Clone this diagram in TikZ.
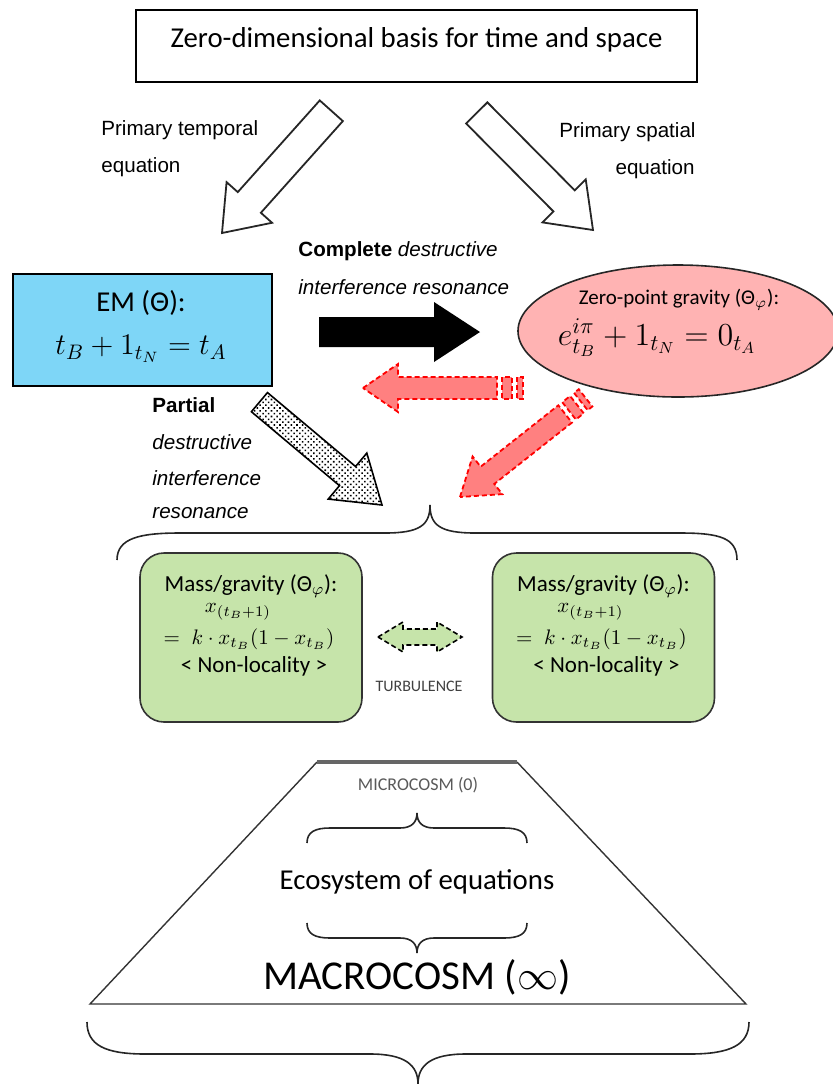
\RequirePackage{fix-cm}
\documentclass[tikz,border=0pt]{standalone}
\usepackage{fontspec}
\setmainfont{Carlito}
\newfontfamily\arialf{Liberation Sans}
\usetikzlibrary{calc,patterns,patterns.meta,shapes.geometric}

\definecolor{emblue}{RGB}{126,214,247}
\definecolor{zpink}{RGB}{255,179,179}
\definecolor{redfill}{RGB}{255,128,128}
\definecolor{mgreen}{RGB}{198,228,170}

% block arrow: style, tip, angle (tip -> tail), length, half shaft, half head, head length
\newcommand{\blockarrow}[7]{%
  \begin{scope}[shift={(#2)}, rotate=#3]
    \path[#1] (0,0) -- (#7,-#6) -- (#7,-#5) -- (#4,-#5) -- (#4,#5) -- (#7,#5) -- (#7,#6) -- cycle;
  \end{scope}}
% striped arrow: style, tip, angle
\newcommand{\stripedarrow}[3]{%
  \begin{scope}[shift={(#2)}, rotate=#3]
    \path[#1] (0,0) -- (35,-24) -- (35,-11) -- (134,-11) -- (134,11) -- (35,11) -- (35,24) -- cycle;
    \path[#1] (139,-11) rectangle (149,11);
    \path[#1] (154,-11) rectangle (160,11);
  \end{scope}}

\tikzset{
  box/.style={draw=black, line width=0.8pt, inner sep=0pt},
  lab/.style={font=\arialf\fontsize{10.3}{12}\selectfont, inner sep=0pt},
  hollow/.style={draw=black!85, line width=0.9pt, fill=white, line join=miter},
  solidarrow/.style={fill=black},
  dotarrow/.style={draw=black, line width=0.8pt, preaction={fill=white}, pattern={Dots[distance=2pt,radius=0.55pt,angle=45]}},
  redarrow/.style={draw=red, line width=0.9pt, fill=redfill, dash pattern=on 2.5pt off 1.5pt},
  turbarrow/.style={draw=black, line width=0.8pt, fill=mgreen, dash pattern=on 2.5pt off 1.5pt},
  gbox/.style={draw=black!80, line width=0.8pt, fill=mgreen, rounded corners=12pt, minimum width=111pt, minimum height=84.5pt, inner sep=0pt},
  gtxt/.style={font=\fontsize{11.5}{13}\selectfont, inner sep=0pt},
  gmath/.style={font=\fontsize{10.5}{12}\selectfont, inner sep=0pt},
  bigtxt/.style={font=\fontsize{14.4}{16}\selectfont, inner sep=0pt},
  bracepath/.style={draw=black!85, line width=0.8pt},
}

\begin{document}
\begin{tikzpicture}[x=0.5pt,y=-0.5pt]
\useasboundingbox (0,0) rectangle (833,1084);

% top box
\node[box, minimum width=280.5pt, minimum height=36pt] (top) at (416.5,46) {};
\node[bigtxt] (toptxt) at (416.5,40) {Zero-dimensional basis for time and space};

% hollow arrows
\blockarrow{hollow}{222,233}{48.2}{164}{15.5}{30.5}{41}
\blockarrow{hollow}{593,230}{134.8}{165}{15}{30.5}{41}
\node[lab, anchor=west] (pt1) at (101,130) {Primary temporal};
\node[lab, anchor=west] (pt2) at (101,167) {equation};
\node[lab, anchor=east] (ps1) at (696,132) {Primary spatial};
\node[lab, anchor=east] (ps2) at (695,169) {equation};

% EM box
\node[box, fill=emblue, minimum width=129.5pt, minimum height=56pt] (em) at (142.5,330) {};
\node[bigtxt] (emt) at (141,303) {EM (Θ):};
\node[inner sep=0pt, font=\fontsize{15}{17}\selectfont] (emeq) at (141,349) {$t_B + 1_{t_N} = t_A$};

% ellipse
\node[ellipse, draw=black!85, line width=0.8pt, fill=zpink, minimum width=160pt, minimum height=66pt, inner sep=0pt] (zp) at (678,331) {};
\node[inner sep=0pt, font=\fontsize{10.5}{12}\selectfont] (zpt) at (679,300) {Zero-point gravity (Θ$_{\varphi}$):};
\node[inner sep=0pt, font=\fontsize{16}{18}\selectfont] (zpeq) at (657,338) {$e^{i\pi}_{t_B} + 1_{t_N} = 0_{t_A}$};

% complete arrow
\node[lab, anchor=west] (c1) at (298,251) {\bfseries Complete \mdseries\itshape destructive};
\node[lab, anchor=west] (c2) at (298,287) {\itshape interference resonance};
\blockarrow{solidarrow}{480,332}{180}{161}{15}{30}{46}

% red striped arrows
\stripedarrow{redarrow}{363,388}{0}
\stripedarrow{redarrow}{460,497}{38.3}

% dotted arrow
\blockarrow{dotarrow}{382,505}{140}{160}{12.5}{30}{45}
\node[lab, anchor=west] (p1) at (152,405) {\bfseries Partial};
\node[lab, anchor=west] (p2) at (152,442) {\itshape destructive};
\node[lab, anchor=west] (p3) at (152,478) {\itshape interference};
\node[lab, anchor=west] (p4) at (152,513) {\itshape resonance};

% brace over green boxes
\draw[bracepath] (117,560) .. controls (117,538) and (140,533) .. (180,533) -- (385,533) .. controls (420,533) and (430,525) .. (430,505) .. controls (430,525) and (440,533) .. (475,533) -- (680,533) .. controls (720,533) and (737,538) .. (737,560);

% green boxes
\node[gbox] (g1) at (251,637.5) {};
\node[gtxt] (g1t) at (251,586) {Mass/gravity (Θ$_{\varphi}$):};
\node[gmath] (g1a) at (238,612) {$x_{(t_B+1)}$};
\node[gmath] (g1b) at (249,639) {$=\; k\cdot x_{t_B}(1-x_{t_B})$};
\node[gtxt] (g1c) at (254,666) {< Non-locality >};

\node[gbox] (g2) at (603.5,637.5) {};
\node[gtxt] (g2t) at (603.5,586) {Mass/gravity (Θ$_{\varphi}$):};
\node[gmath] (g2a) at (590.5,612) {$x_{(t_B+1)}$};
\node[gmath] (g2b) at (601.5,639) {$=\; k\cdot x_{t_B}(1-x_{t_B})$};
\node[gtxt] (g2c) at (606.5,666) {< Non-locality >};

% turbulence
\begin{scope}[shift={(420,637)}]
  \path[turbarrow] (-42,0) -- (-17,-15) -- (-17,-8) -- (17,-8) -- (17,-15) -- (42,0) -- (17,15) -- (17,8) -- (-17,8) -- (-17,15) -- cycle;
\end{scope}
\node[inner sep=0pt, font=\fontsize{8}{9}\selectfont, text=black!75] (turb) at (419,686) {TURBULENCE};

% trapezoid
\draw[line width=0.7pt, black!80] (317,762) -- (90,1004) -- (746,1004) -- (517,762);
\draw[line width=1.6pt, black!60] (317,762) -- (517,762);
\node[inner sep=0pt, font=\fontsize{9}{10}\selectfont, text=black!65] (micro) at (418,785) {MICROCOSM (0)};
\draw[bracepath] (307,843) .. controls (307,832) and (315,828) .. (330,828) -- (400,828) .. controls (412,828) and (417,822) .. (417,813) .. controls (417,822) and (422,828) .. (434,828) -- (504,828) .. controls (519,828) and (527,832) .. (527,843);
\node[bigtxt] (eco) at (417,882) {Ecosystem of equations};
\draw[bracepath] (307,923) .. controls (307,934) and (315,938) .. (330,938) -- (400,938) .. controls (412,938) and (417,944) .. (417,953) .. controls (417,944) and (422,938) .. (434,938) -- (504,938) .. controls (519,938) and (527,934) .. (527,923);
\node[inner sep=0pt, font=\fontsize{20.5}{23}\selectfont] (macro) at (417,977) {MACROCOSM ($\infty$)};

% bottom brace
\draw[bracepath] (87,1022) .. controls (87,1045) and (105,1054) .. (145,1054) -- (370,1054) .. controls (405,1054) and (418,1065) .. (418,1084) .. controls (418,1065) and (431,1054) .. (466,1054) -- (690,1054) .. controls (730,1054) and (749,1045) .. (749,1022);
\end{tikzpicture}
\end{document}
